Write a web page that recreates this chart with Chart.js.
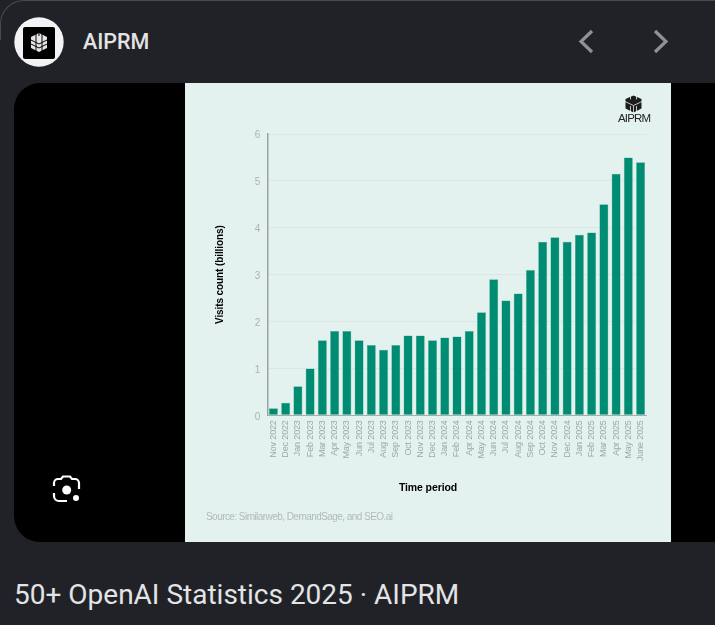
<!DOCTYPE html>
<html><head><meta charset="utf-8">
<script src="https://cdn.jsdelivr.net/npm/chart.js@4"></script>
<style>
html,body{margin:0;padding:0;width:715px;height:625px;overflow:hidden;background:#212227;}
#top{position:absolute;left:0;top:0;width:730px;height:40px;box-sizing:border-box;border-top:1.5px solid #4a4b4f;border-left:1.5px solid #4a4b4f;border-top-left-radius:24px;}
#blk{position:absolute;left:14px;top:83px;width:701px;height:459px;background:#000;border-radius:26px 0 0 26px;}
#panel{position:absolute;left:185px;top:83px;width:486px;height:459px;background:#e3f2ee;}
#wrap{position:absolute;left:0;top:0;width:486px;height:459px;filter:blur(.35px);}
#name{position:absolute;left:83px;top:29px;font:500 21.5px Roboto,sans-serif;color:#e3e3e3;line-height:26px;}
#cap{position:absolute;left:14px;top:577px;font:400 28px Roboto,sans-serif;color:#e3e4e6;line-height:36px;white-space:nowrap;}
#brand{position:absolute;left:433px;top:29px;font:400 11.5px "Liberation Sans",sans-serif;letter-spacing:-.85px;color:#222;width:30px;text-align:center;filter:blur(.3px);}
svg{position:absolute;}
</style></head><body>
<div id="top"></div>
<svg style="left:14px;top:17px" width="50" height="50" viewBox="0 0 50 50">
<circle cx="25" cy="25" r="24.700" fill="#f1f3f4"/><rect x="9" y="10" width="32" height="32" rx="2" fill="#000"/>
<path d="M25 16l8 4v11l-8 4-8-4V20z" fill="#e6e6e6"/>
<g stroke="#000" fill="none" stroke-width="1"><path d="M22 16v19M28 16v19M25 16v3M17 23l8 4 8-4M17 27l8 4 8-4"/></g>
</svg>
<div id="name">AIPRM</div>
<svg style="left:575px;top:28px" width="100" height="28" fill="none" stroke="#909195" stroke-width="3.200"><path d="M17 3L6 13.500 17 24"/><path d="M80 3L91 13.500 80 24"/></svg>
<div id="blk"></div>
<svg style="left:50px;top:472px" width="34" height="34" fill="none" stroke="#fff" stroke-width="2.200"><path d="M4 14v-3a4 4 0 0 1 4-4h3l2-2.500h7l2 2.500h3a4 4 0 0 1 4 4v6"/><path d="M4 21v3a5 5 0 0 0 5 5h8"/><circle cx="16.700" cy="18" r="4.500" fill="#fff" stroke="none"/><circle cx="26" cy="26" r="3" fill="#fff" stroke="none"/></svg>
<div id="panel">
<div id="wrap"><canvas id="c" width="486" height="459"></canvas></div>
<svg style="left:439px;top:12px;filter:blur(.3px)" width="19" height="18" viewBox="0 0 19 18">
<path d="M9.500 .5l8 3.500v9.500l-8 4-8-4V4z" fill="#1c1c1c"/>
<g stroke="#e3f2ee" fill="none" stroke-width=".8"><path d="M6.500 .5v4M12.500 .5v4M1 6.500l8.500 4 8.500-4M6.500 11v7M12.500 11v7M9.500 11v7"/></g></svg>
<div id="brand">AIPRM</div>
<div style="position:absolute;left:21px;top:428px;font:400 10px 'Liberation Sans',sans-serif;letter-spacing:-.55px;color:#afbbb8;filter:blur(.3px);white-space:nowrap">Source: Similarweb, DemandSage, and SEO.ai</div>
</div>
<div id="cap">50+ OpenAI Statistics 2025 · AIPRM</div>
<script>
const categories = ["Nov 2022","Dec 2022","Jan 2023","Feb 2023","Mar 2023","Apr 2023","May 2023","Jun 2023","Jul 2023","Aug 2023","Sep 2023","Oct 2023","Nov 2023","Dec 2023","Jan 2024","Feb 2024","Apr 2024","May 2024","Jun 2024","Jul 2024","Aug 2024","Sep 2024","Oct 2024","Nov 2024","Dec 2024","Jan 2025","Feb 2025","Mar 2025","Apr 2025","May 2025","June 2025"];
const visits = [0.15,0.27,0.62,1.0,1.6,1.8,1.8,1.6,1.5,1.4,1.5,1.7,1.7,1.6,1.66,1.68,1.8,2.2,2.9,2.45,2.6,3.1,3.7,3.8,3.7,3.85,3.9,4.5,5.15,5.5,5.4];
const yTicks = [0,1,2,3,4,5,6];
const family = "'Liberation Sans',sans-serif";
function shift(scale,name,dx,dy,spacing){
  const orig=scale[name];
  scale[name]=function(){
    const g=this.ctx;g.save();g.translate(dx,dy);g.letterSpacing=spacing;
    orig.apply(this,arguments);g.restore();
  };
}
new Chart(document.getElementById('c'),{
  type:'bar',
  data:{labels:categories,datasets:[{label:'Visits count (billions)',data:visits,backgroundColor:'#008c72',borderColor:'#5fb5a2',borderWidth:{left:.5,right:.5,top:.5,bottom:0},categoryPercentage:1,barPercentage:.735}]},
  options:{
    responsive:false,animation:false,
    layout:{padding:{left:26,right:24.3,top:51,bottom:10}},
    plugins:{legend:{display:false},tooltip:{enabled:false}},
    scales:{
      x:{
        afterFit:s=>{s.height=116.700;},
        afterUpdate:s=>{if(!s._wrapped){s._wrapped=true;shift(s,'drawTitle',-29,-38,'-0.1px');shift(s,'drawLabels',0,-3,'-0.15px');}},
        grid:{display:false},
        border:{color:'#a3afac',width:1},
        ticks:{autoSkip:false,minRotation:90,maxRotation:90,padding:0,color:'#9ca9a6',font:{family,size:9}},
        title:{display:true,text:'Time period',color:'#000',font:{family,size:10.500,weight:'bold'},padding:{top:0,bottom:0}}
      },
      y:{
        min:0,max:6,
        afterFit:s=>{s.width=56.3;},
        afterBuildTicks:s=>{s.ticks=yTicks.map(v=>({value:v}));},
        afterUpdate:s=>{if(!s._wrapped){s._wrapped=true;shift(s,'drawTitle',3,0,'-0.1px');shift(s,'drawLabels',0,1.500,'0px');}},
        grid:{drawTicks:false,color:'#d3dcd9',lineWidth:1},
        border:{color:'#98a5a2',width:1.500,dash:[1,1]},
        ticks:{padding:7,color:'#a9b5b2',font:{family,size:10}},
        title:{display:true,text:'Visits count (billions)',color:'#000',font:{family,size:10,weight:'bold'},padding:{top:0,bottom:0}}
      }
    }
  }
});
</script>
</body></html>
